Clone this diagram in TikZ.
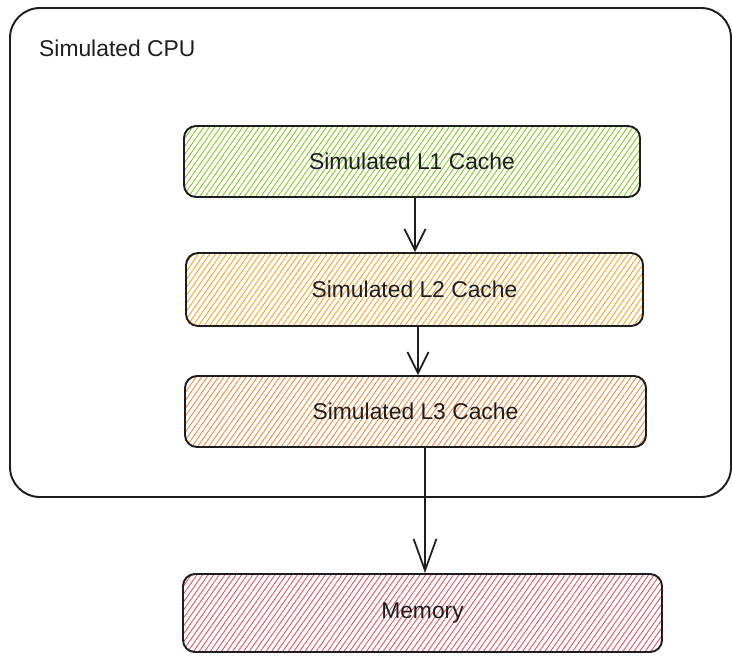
\documentclass[tikz,border=0pt]{standalone}
\usepackage{fontspec}
\setmainfont{Liberation Sans}
\usetikzlibrary{patterns.meta,arrows.meta}
\definecolor{lime}{HTML}{82C91E}
\definecolor{amber}{HTML}{F5A524}
\definecolor{tangerine}{HTML}{F08A3C}
\definecolor{rose}{HTML}{E0525A}
\definecolor{ink}{HTML}{1E1E1E}

\tikzset{
  cachebox/.style={draw=ink,line width=1.1pt,rounded corners=0.24cm,
    font=\fontsize{13}{15}\selectfont,text=ink,
    pattern={Lines[angle=55,distance=2.6pt,line width=0.5pt]}},
  flow/.style={draw=ink,line width=1pt,-{Straight Barb[length=12pt,width=12pt]}}
}

\begin{document}
\begin{tikzpicture}[x=0.02cm,y=-0.02cm]
        \useasboundingbox (0,0) rectangle (732,657);
        % outer cpu frame
        \node[draw=ink,line width=1.1pt,rounded corners=0.6cm,minimum width=721*0.02cm,
          minimum height=489*0.02cm,inner sep=0pt] (cpu) at (370.5,252.5) {};
        \node[anchor=west,font=\fontsize{13}{15}\selectfont,text=ink] (cpulabel) at (33,48) {Simulated CPU};
        \foreach \name/\x/\y/\w/\h/\col/\label in {
          l1/412/161.5/456/71/lime/Simulated L1 Cache,
          l2/414.5/289.5/457/73/amber/Simulated L2 Cache,
          l3/415.5/411.5/461/71/tangerine/Simulated L3 Cache,
          mem/422.5/613/479/78/rose/Memory
        }{
          \node[cachebox,pattern color=\col,minimum width=\w*0.02cm,minimum height=\h*0.02cm]
            (\name) at (\x,\y) {\label};
        }
        % straight drops between the levels
        \draw[flow] ([xshift=0.06cm]l1.south) -- ([xshift=0.06cm]l1.south |- l2.north);
        \draw[flow] ([xshift=0.07cm]l2.south) -- ([xshift=0.07cm]l2.south |- l3.north);
        \draw[flow,-{Straight Barb[length=18pt,width=13pt]}]
          ([xshift=0.19cm]l3.south) -- ([xshift=0.19cm]l3.south |- mem.north);
      \end{tikzpicture}
\end{document}
